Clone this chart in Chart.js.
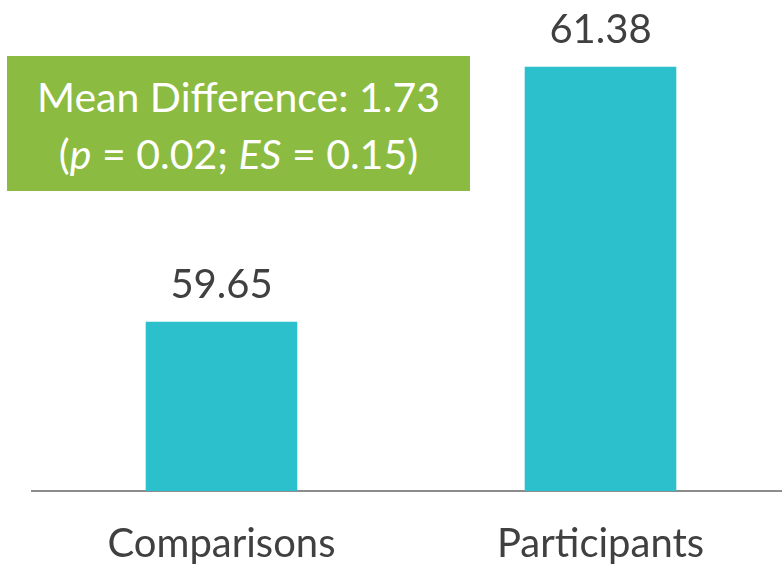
<!DOCTYPE html>
<html>
<head>
<meta charset="utf-8">
<script src="https://cdn.jsdelivr.net/npm/chart.js@4"></script>
<style>
    html, body { margin: 0; padding: 0; background: #ffffff; overflow: hidden; }
    #wrap { position: relative; width: 790px; height: 597px; }
    #note {
        position: absolute; left: 7px; top: 56px; width: 463px; height: 135px;
        background: #8bbb40; color: #ffffff; font-family: Lato, sans-serif;
        font-size: 41px; line-height: 57px; text-align: center;
        box-sizing: border-box; padding-top: 12px;
    }
</style>
</head>
<body>
<div id="wrap">
    <canvas id="chart"></canvas>
    <div id="note">Mean Difference: 1.73<br>(<i>p</i> = 0.02; <i>ES</i> = 0.15)</div>
</div>
<script>
const categories = ['Comparisons', 'Participants'];
const scores = [59.65, 61.38];
const axisMin = 58.5;
const axisMax = 61.8;

const textColor = '#404040';
const barColor = '#2cc0cd';

const valueLabels = {
    id: 'valueLabels',
    afterDatasetsDraw(chart) {
        const ctx = chart.ctx;
        const meta = chart.getDatasetMeta(0);
        ctx.save();
        ctx.font = '40px Lato, sans-serif';
        ctx.fillStyle = textColor;
        ctx.textAlign = 'center';
        ctx.textBaseline = 'alphabetic';
        meta.data.forEach((bar, i) => {
            ctx.fillText(scores[i].toFixed(2), bar.x, bar.y - 24);
        });
        ctx.restore();
    },
};

function init() {
    const ctx = document.getElementById('chart').getContext('2d');
    new Chart(ctx, {
        type: 'bar',
        data: {
            labels: categories,
            datasets: [
                {
                    data: scores,
                    backgroundColor: barColor,
                    borderWidth: 0,
                    barPercentage: 0.4,
                    categoryPercentage: 1,
                },
            ],
        },
        options: {
            responsive: true,
            maintainAspectRatio: false,
            animation: false,
            layout: {
                padding: { left: 32, right: 0, top: 5, bottom: 0 },
            },
            scales: {
                x: {
                    grid: { display: false, drawTicks: false },
                    border: { display: true, color: '#8c8c8c', width: 2 },
                    ticks: {
                        color: textColor,
                        padding: 29,
                        font: { family: 'Lato, sans-serif', size: 40 },
                    },
                },
                y: {
                    display: false,
                    min: axisMin,
                    max: axisMax,
                },
            },
            plugins: {
                legend: { display: false },
                tooltip: { enabled: false },
            },
        },
        plugins: [valueLabels],
    });
}

document.addEventListener('DOMContentLoaded', init);
</script>
</body>
</html>
